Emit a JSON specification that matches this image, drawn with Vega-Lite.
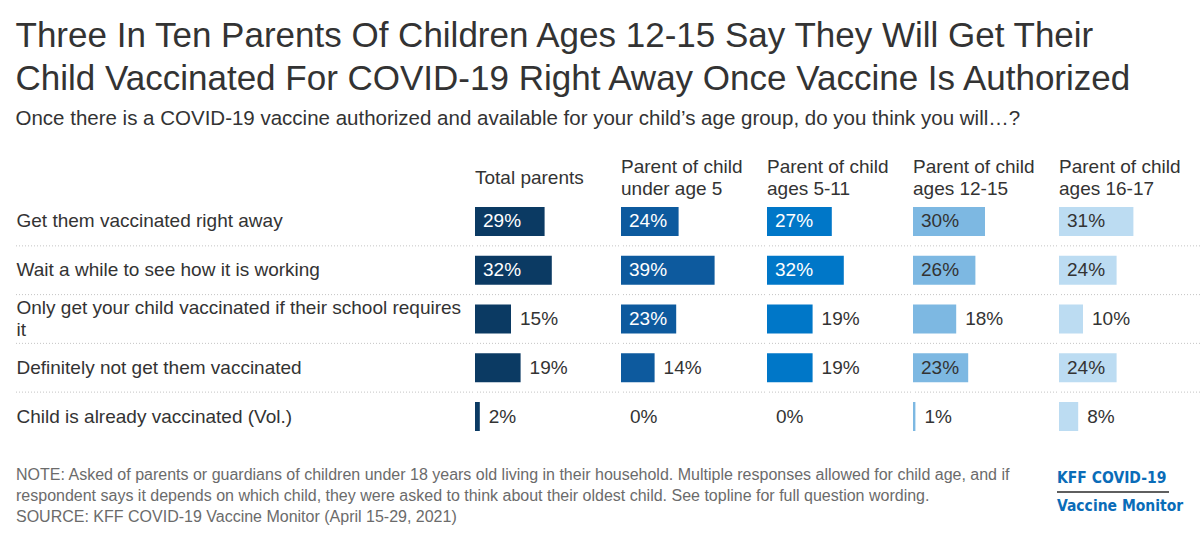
{
  "$schema": "https://vega.github.io/schema/vega-lite/v6.json",
  "background": "white",
  "padding": {"left": 15, "top": 18, "right": 0, "bottom": 0},
  "config": {
    "view": {"stroke": null},
    "font": "Liberation Sans",
    "concat": {"spacing": 0}
  },
  "title": {
    "text": [
      "Three In Ten Parents Of Children Ages 12-15 Say They Will Get Their",
      "Child Vaccinated For COVID-19 Right Away Once Vaccine Is Authorized"
    ],
    "subtitle": "Once there is a COVID-19 vaccine authorized and available for your child’s age group, do you think you will…?",
    "anchor": "start",
    "frame": "bounds",
    "font": "Liberation Sans",
    "fontSize": 35,
    "fontWeight": "normal",
    "lineHeight": 43,
    "color": "#333333",
    "subtitleFont": "Liberation Sans",
    "subtitleFontSize": 20.5,
    "subtitleColor": "#333333",
    "subtitlePadding": 12,
    "offset": 29
  },
  "datasets": {
    "survey": [
      {"response": "Get them vaccinated right away", "group": "Total parents", "share": 0.29},
      {"response": "Get them vaccinated right away", "group": "Parent of child under age 5", "share": 0.24},
      {"response": "Get them vaccinated right away", "group": "Parent of child ages 5-11", "share": 0.27},
      {"response": "Get them vaccinated right away", "group": "Parent of child ages 12-15", "share": 0.30},
      {"response": "Get them vaccinated right away", "group": "Parent of child ages 16-17", "share": 0.31},
      {"response": "Wait a while to see how it is working", "group": "Total parents", "share": 0.32},
      {"response": "Wait a while to see how it is working", "group": "Parent of child under age 5", "share": 0.39},
      {"response": "Wait a while to see how it is working", "group": "Parent of child ages 5-11", "share": 0.32},
      {"response": "Wait a while to see how it is working", "group": "Parent of child ages 12-15", "share": 0.26},
      {"response": "Wait a while to see how it is working", "group": "Parent of child ages 16-17", "share": 0.24},
      {"response": "Only get your child vaccinated if their school requires it", "group": "Total parents", "share": 0.15},
      {"response": "Only get your child vaccinated if their school requires it", "group": "Parent of child under age 5", "share": 0.23},
      {"response": "Only get your child vaccinated if their school requires it", "group": "Parent of child ages 5-11", "share": 0.19},
      {"response": "Only get your child vaccinated if their school requires it", "group": "Parent of child ages 12-15", "share": 0.18},
      {"response": "Only get your child vaccinated if their school requires it", "group": "Parent of child ages 16-17", "share": 0.10},
      {"response": "Definitely not get them vaccinated", "group": "Total parents", "share": 0.19},
      {"response": "Definitely not get them vaccinated", "group": "Parent of child under age 5", "share": 0.14},
      {"response": "Definitely not get them vaccinated", "group": "Parent of child ages 5-11", "share": 0.19},
      {"response": "Definitely not get them vaccinated", "group": "Parent of child ages 12-15", "share": 0.23},
      {"response": "Definitely not get them vaccinated", "group": "Parent of child ages 16-17", "share": 0.24},
      {"response": "Child is already vaccinated (Vol.)", "group": "Total parents", "share": 0.02},
      {"response": "Child is already vaccinated (Vol.)", "group": "Parent of child under age 5", "share": 0.0},
      {"response": "Child is already vaccinated (Vol.)", "group": "Parent of child ages 5-11", "share": 0.0},
      {"response": "Child is already vaccinated (Vol.)", "group": "Parent of child ages 12-15", "share": 0.01},
      {"response": "Child is already vaccinated (Vol.)", "group": "Parent of child ages 16-17", "share": 0.08}
    ],
    "footnote": [
      {"line": 1, "text": "NOTE: Asked of parents or guardians of children under 18 years old living in their household. Multiple responses allowed for child age, and if"},
      {"line": 2, "text": "respondent says it depends on which child, they were asked to think about their oldest child. See topline for full question wording."},
      {"line": 3, "text": "SOURCE: KFF COVID-19 Vaccine Monitor (April 15-29, 2021)"}
    ],
    "brand": [
      {"line": "KFF COVID-19"},
      {"line": "Vaccine Monitor"}
    ]
  },
  "vconcat": [
    {
      "hconcat": [
        {
          "data": {"name": "survey"},
          "width": 457,
          "height": 240,
          "transform": [
            {"filter": "datum.group == 'Total parents' && datum.response != 'Child is already vaccinated (Vol.)'"}
          ],
          "mark": {"type": "rule", "color": "#c4c4c4", "strokeDash": [1, 2], "strokeWidth": 1},
          "encoding": {
            "y": {
              "field": "response",
              "type": "nominal",
              "bandPosition": 1.34,
              "title": null,
              "scale": {
                "domain": ["Get them vaccinated right away", "Wait a while to see how it is working", "Only get your child vaccinated if their school requires it", "Definitely not get them vaccinated", "Child is already vaccinated (Vol.)"],
                "paddingInner": 0.405,
                "paddingOuter": 0.164
              },
              "axis": {
                "domain": false,
                "ticks": false,
                "grid": false,
                "labelPadding": 0,
                "labelOffset": {"condition": {"test": "datum.value == 'Only get your child vaccinated if their school requires it'", "value": -11}, "value": 0},
                "labelAlign": "left",
                "labelBaseline": "middle",
                "labelFont": "Liberation Sans",
                "labelFontSize": 19,
                "labelColor": "#333333",
                "labelLimit": 0,
                "labelLineHeight": 22,
                "labelExpr": "datum.value == 'Only get your child vaccinated if their school requires it' ? ['Only get your child vaccinated if their school requires', 'it'] : datum.value"
              }
            }
          }
        },
        {
          "data": {"name": "survey"},
          "spacing": 0,
          "facet": {
            "column": {
              "field": "group",
              "type": "nominal",
              "title": null,
              "sort": ["Total parents", "Parent of child under age 5", "Parent of child ages 5-11", "Parent of child ages 12-15", "Parent of child ages 16-17"],
              "header": {
                "labelOrient": "top",
                "labelAlign": "left",
                "labelAnchor": "start",
                "labelBaseline": "middle",
                "labelFont": "Liberation Sans",
                "labelFontSize": 19,
                "labelColor": "#333333",
                "labelLineHeight": 11,
                "labelPadding": -9,
                "labelExpr": "datum.value == 'Total parents' ? ['\u2800', datum.value, '\u2800'] : [substring(datum.value, 0, 15), '\u2800', substring(datum.value, 16)]"
              }
            }
          },
          "spec": {
            "width": 144,
            "height": 240,
            "encoding": {
              "y": {
                "field": "response",
                "type": "nominal",
                "axis": null,
                "scale": {
                  "domain": ["Get them vaccinated right away", "Wait a while to see how it is working", "Only get your child vaccinated if their school requires it", "Definitely not get them vaccinated", "Child is already vaccinated (Vol.)"],
                  "paddingInner": 0.405,
                  "paddingOuter": 0.164
                }
              }
            },
            "layer": [
              {
                "transform": [{"filter": "datum.response != 'Child is already vaccinated (Vol.)'"}],
                "mark": {"type": "rule", "color": "#c4c4c4", "strokeDash": [1, 2], "strokeWidth": 1},
                "encoding": {
                  "y": {"field": "response", "type": "nominal", "bandPosition": 1.34, "axis": null}
                }
              },
              {
                "mark": {"type": "bar"},
                "encoding": {
                  "x": {"field": "share", "type": "quantitative", "scale": {"domain": [0, 0.554]}, "axis": null},
                  "color": {
                    "field": "group",
                    "type": "nominal",
                    "legend": null,
                    "scale": {
                      "domain": ["Total parents", "Parent of child under age 5", "Parent of child ages 5-11", "Parent of child ages 12-15", "Parent of child ages 16-17"],
                      "range": ["#0b3a63", "#0d5a9e", "#0077c8", "#7db8e2", "#bcdcf2"]
                    }
                  }
                }
              },
              {
                "transform": [{"filter": "datum.share >= 0.2"}],
                "mark": {"type": "text", "align": "left", "baseline": "middle", "dx": 8, "fontSize": 19, "font": "Liberation Sans"},
                "encoding": {
                  "x": {"datum": 0, "type": "quantitative"},
                  "text": {"field": "share", "type": "quantitative", "format": ".0%"},
                  "color": {
                    "condition": {"test": "indexof(['Parent of child ages 12-15', 'Parent of child ages 16-17'], datum.group) >= 0", "value": "#333333"},
                    "value": "#ffffff"
                  }
                }
              },
              {
                "transform": [{"filter": "datum.share < 0.2"}],
                "mark": {"type": "text", "align": "left", "baseline": "middle", "dx": 9, "fontSize": 19, "font": "Liberation Sans", "color": "#333333"},
                "encoding": {
                  "x": {"field": "share", "type": "quantitative"},
                  "text": {"field": "share", "type": "quantitative", "format": ".0%"}
                }
              }
            ]
          }
        }
      ],
      "resolve": {"scale": {"y": "independent"}}
    },
    {
      "hconcat": [
        {
          "data": {"name": "footnote"},
          "width": 1040,
          "height": 63,
          "mark": {"type": "text", "align": "left", "baseline": "middle", "font": "Liberation Sans", "fontSize": 16, "color": "#6b6b6b"},
          "encoding": {
            "x": {"datum": 0, "type": "quantitative", "scale": {"domain": [0, 1]}, "axis": null},
            "y": {"field": "line", "type": "ordinal", "axis": null, "scale": {"paddingInner": 0, "paddingOuter": 0}},
            "text": {"field": "text"}
          }
        },
        {
          "data": {"name": "brand"},
          "width": 112,
          "height": 56,
          "layer": [
            {
              "mark": {"type": "rule", "color": "#555555", "strokeWidth": 1.5},
              "encoding": {
                "y": {"datum": "Vaccine Monitor", "type": "nominal", "bandPosition": 0}
              }
            },
            {
              "mark": {"type": "text", "align": "left", "baseline": "middle", "font": "DejaVu Sans Condensed", "fontWeight": "bold", "fontSize": 15.5, "color": "#0a6cb8"},
              "encoding": {
                "x": {"datum": 0, "type": "quantitative", "scale": {"domain": [0, 1]}, "axis": null},
                "text": {"field": "line"}
              }
            }
          ],
          "encoding": {
            "y": {"field": "line", "type": "nominal", "axis": null, "scale": {"domain": ["KFF COVID-19", "Vaccine Monitor"], "paddingInner": 0, "paddingOuter": 0}}
          }
        }
      ],
      "spacing": 0
    }
  ],
  "spacing": 25
}
